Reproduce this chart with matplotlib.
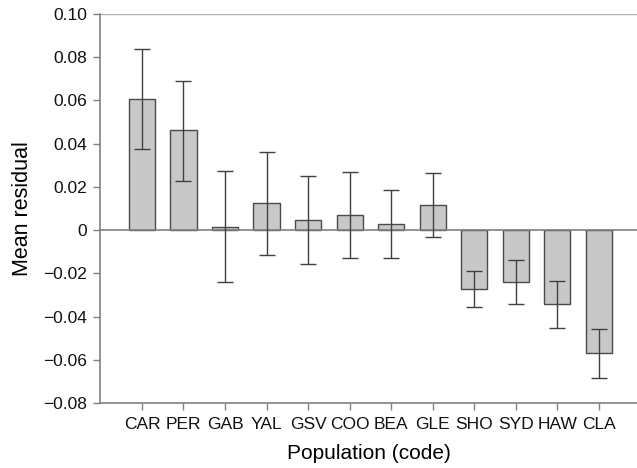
import matplotlib.pyplot as plt
import numpy as np

plt.rcParams['font.family'] = ['Liberation Sans', 'DejaVu Sans']

codes = ['CAR', 'PER', 'GAB', 'YAL', 'GSV', 'COO', 'BEA', 'GLE', 'SHO', 'SYD', 'HAW', 'CLA']
means = [0.0605, 0.0462, 0.0016, 0.0127, 0.0045, 0.0070, 0.0029, 0.0118, -0.0274, -0.0240, -0.0342, -0.0570]
err_hi = [0.0838, 0.0692, 0.0275, 0.0363, 0.0252, 0.0271, 0.0187, 0.0266, -0.0190, -0.0137, -0.0234, -0.0459]
err_lo = [0.0374, 0.0229, -0.0240, -0.0113, -0.0158, -0.0129, -0.0129, -0.0033, -0.0357, -0.0342, -0.0451, -0.0684]

x = np.arange(len(codes))
means = np.array(means)
yerr = [means - np.array(err_lo), np.array(err_hi) - means]

fig = plt.figure(figsize=(6.37, 4.68), dpi=100)
ax = fig.add_axes([100/637, 1 - 403/468, 1 - 100/637, 389/468])

ax.bar(x, means, width=0.63, color='#c8c8c8', edgecolor='#4a4a4a', linewidth=1.0, zorder=2)
ax.axhline(0, color='#808080', linewidth=1.2, zorder=3)
ax.errorbar(x, means, yerr=yerr, fmt='none', ecolor='#404040', elinewidth=1.0,
            capsize=6, capthick=1.0, zorder=4)
ax.axhline(0.10, color='#b0b0b0', linewidth=1.0, zorder=1)

ax.set_xlim(-1.01, 11.92)
ax.set_ylim(-0.08, 0.10)
ax.set_yticks(np.arange(-0.08, 0.101, 0.02))
ax.set_yticklabels(['\u22120.08', '\u22120.06', '\u22120.04', '\u22120.02', '0',
                    '0.02', '0.04', '0.06', '0.08', '0.10'])
ax.set_xticks(x)
ax.set_xticklabels(codes)

for s in ['top', 'right']:
    ax.spines[s].set_visible(False)
for s in ['left', 'bottom']:
    ax.spines[s].set_color('#808080')
    ax.spines[s].set_linewidth(1.2)
ax.tick_params(axis='both', colors='#808080', labelcolor='#111111', length=5, width=1.0, labelsize=12.5)
ax.tick_params(axis='x', pad=5)
ax.tick_params(axis='y', pad=4)

ax.set_ylabel('Mean residual', fontsize=15.5, labelpad=8)
ax.set_xlabel('Population (code)', fontsize=15, labelpad=9)

fig.savefig('out.png', dpi=100)
